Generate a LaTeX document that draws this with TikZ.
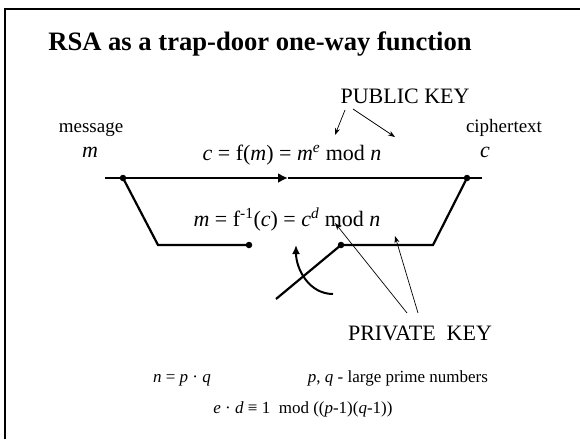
\documentclass[tikz,border=0pt]{standalone}
\usepackage{fontspec}
\setmainfont{Liberation Serif}
\usetikzlibrary{arrows.meta, positioning, calc}

\begin{document}
\begin{tikzpicture}[x=1pt, y=-1pt,
    titlenode/.style={anchor=base, inner sep=0pt, font=\fontsize{26.6}{30}\selectfont\bfseries},
    keynode/.style={anchor=base, inner sep=0pt, font=\fontsize{22}{26}\selectfont},
    labelnode/.style={anchor=base, inner sep=0pt, font=\fontsize{19}{22}\selectfont},
    factnode/.style={anchor=base, inner sep=0pt, font=\fontsize{17}{20}\selectfont},
    wire/.style={line width=2.2pt},
    pin/.style={circle, fill=black, inner sep=0pt, minimum size=6.5pt},
    pointer/.style={-{Stealth[length=7pt, width=5pt]}, line width=0.7pt}
]
    \useasboundingbox (0,0) rectangle (580,439);
    % Slide frame
    \draw[line width=1.3pt] (5,439) -- (5,9) -- (580,9);

    % Title
    \node[titlenode] (title) at (260,50) {RSA as a trap-door one-way function};

    % Ends of the channel
    \node[labelnode] (msglabel) at (91,132) {message};
    \node[labelnode] (ctlabel) at (504,132) {ciphertext};
    \node[keynode] (msg) at (90,157) {\textit{m}};
    \node[keynode] (ct) at (485,157) {\textit{c}};

    % Formulas
    \node[keynode] (encrypt) at (292,160) {\textit{c} = f(\textit{m}) = \textit{m}\textsuperscript{\textit{e}} mod \textit{n}};
    \node[keynode] (decrypt) at (287,226) {\textit{m} = f\textsuperscript{-1}(\textit{c}) = \textit{c}\textsuperscript{\textit{d}} mod \textit{n}};

    % Keys
    \node[keynode] (pubkey) at (405,103) {PUBLIC KEY};
    \node[keynode] (privkey) at (420,340) {PRIVATE\ \ KEY};

    % Contacts
    \node[pin] (dotA) at (123,178) {};
    \node[pin] (dotB) at (467,178) {};
    \node[pin] (dotC) at (249,245) {};
    \node[pin] (dotD) at (341,245) {};
    \coordinate (inL) at (105,178);
    \coordinate (outR) at (482,178);
    \coordinate (flow) at (288,178);
    \coordinate (bendL) at (158,245);
    \coordinate (bendR) at (433,245);
    \coordinate (lever) at (276,299);
    \coordinate (swingS) at (333,294);
    \coordinate (swingE) at (296,245);

    % Upper (public) path
    \draw[wire, -{Latex[length=10pt, width=10pt]}] (inL) -- (flow);
    \draw[wire] (flow) -- (outR);

    % Lower (trap-door) path
    \draw[wire] (dotA.center) -- (bendL) -- (dotC.center);
    \draw[wire] (dotD.center) -- (bendR) -- (dotB.center);
    \draw[wire] (dotD.center) -- (lever);
    \draw[wire, line width=2pt, -{Latex[length=9pt, width=8pt]}] (swingS) to[out=180, in=-90] (swingE);

    % Key pointers
    \coordinate (pkA) at (345,110);
    \coordinate (pkB) at (353,109);
    \coordinate (eTip) at (335,135);
    \coordinate (nTip) at (395,137);
    \draw[pointer] (pkA) -- (eTip);
    \draw[pointer] (pkB) -- (nTip);

    \coordinate (skA) at (407,313);
    \coordinate (skB) at (418,313);
    \coordinate (dTip) at (335,223);
    \coordinate (modTip) at (395,236);
    \draw[pointer] (skA) -- (dTip);
    \draw[pointer] (skB) -- (modTip);

    % Facts about the key
    \node[factnode] (modulus) at (182,382) {\textit{n} = \textit{p} · \textit{q}};
    \node[factnode] (primes) at (398,382) {\textit{p}, \textit{q} - large prime numbers};
    \node[factnode] (inverse) at (303,413) {\textit{e} · \textit{d} ≡ 1\ \ mod ((\textit{p}-1)(\textit{q}-1))};
\end{tikzpicture}
\end{document}
